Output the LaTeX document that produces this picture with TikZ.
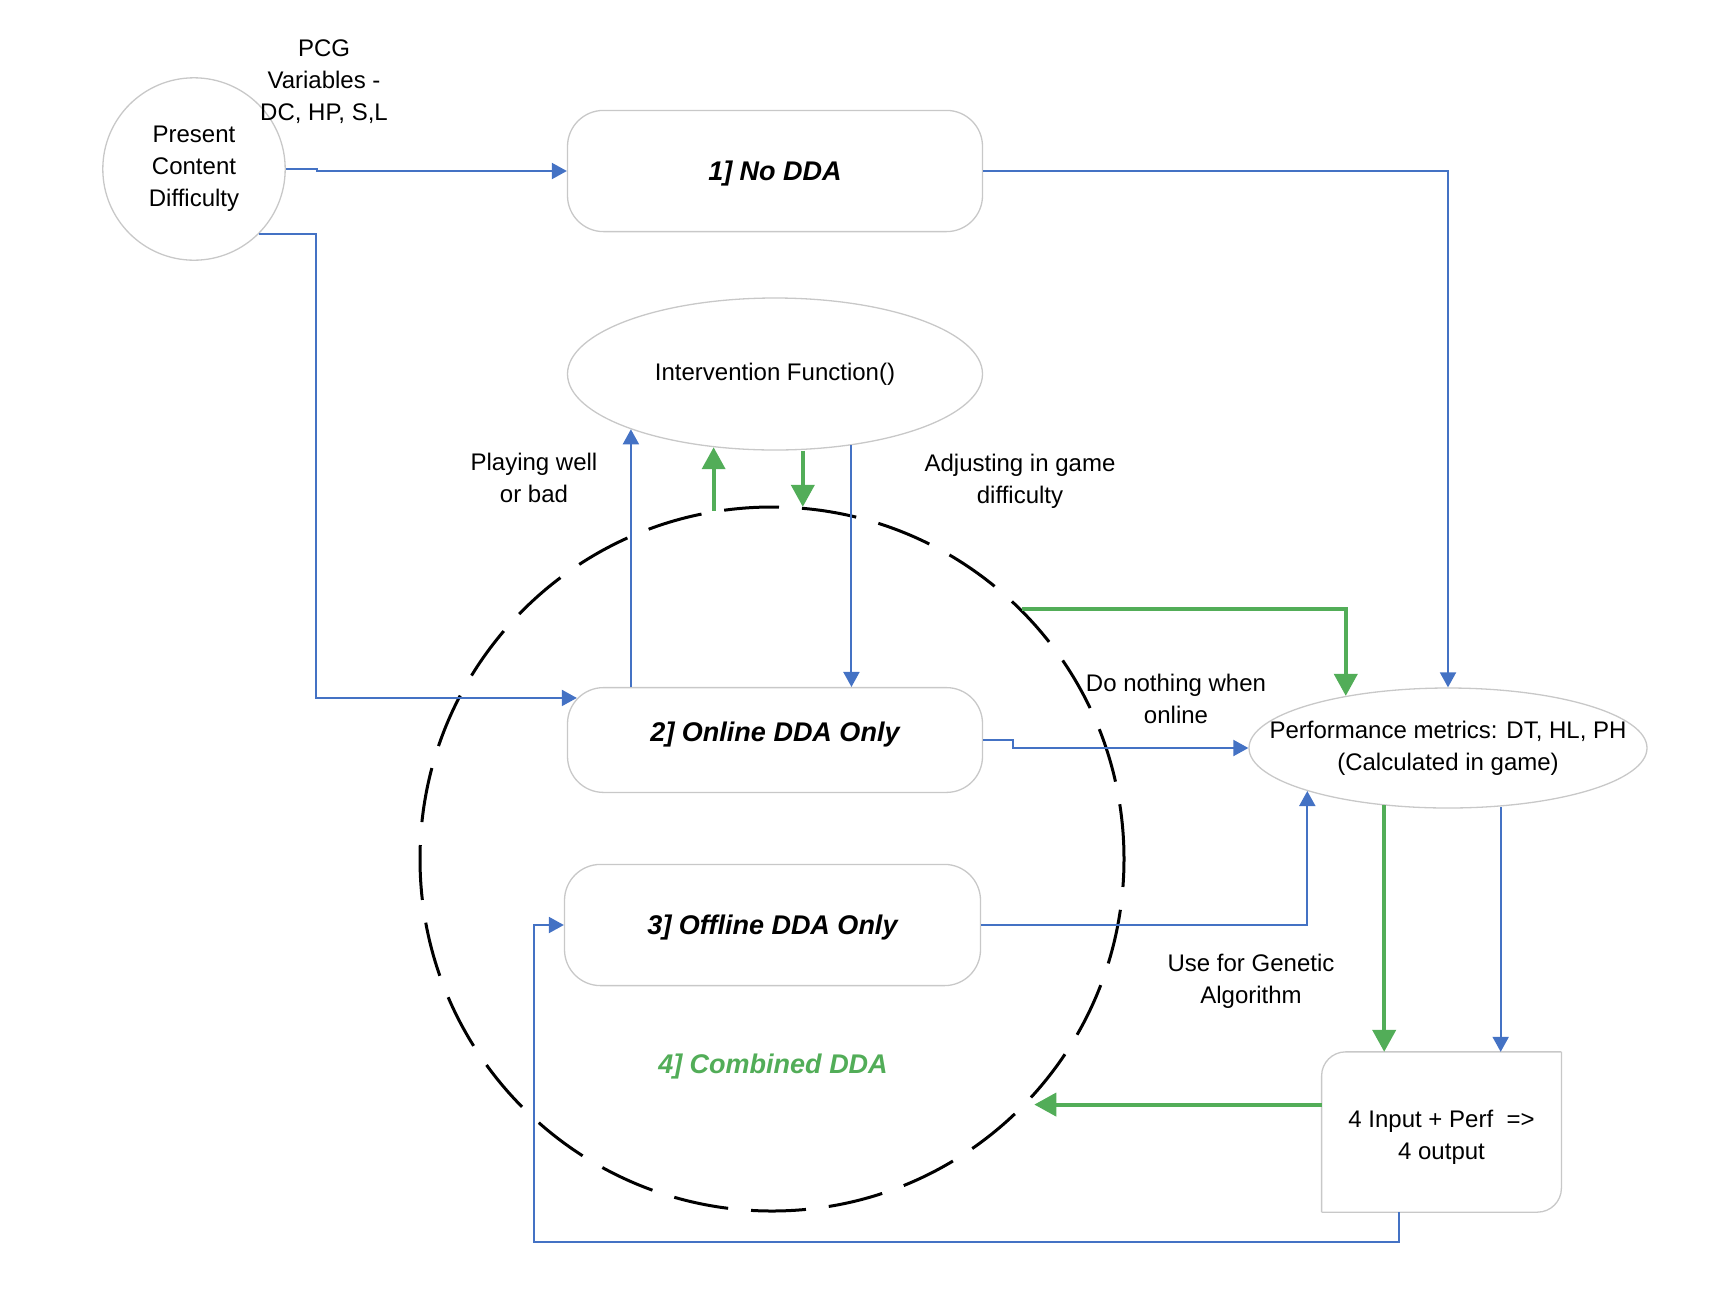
\documentclass[tikz,border=0pt]{standalone}
\usepackage{fontspec}
\setmainfont{Liberation Sans}
\usepackage{tikz}
\usetikzlibrary{arrows.meta,positioning,calc,shapes.geometric}
\definecolor{flowblue}{RGB}{68,114,196}
\definecolor{flowgreen}{RGB}{82,173,88}
\definecolor{edgegray}{RGB}{200,200,200}

\begin{document}
\begin{tikzpicture}[
  x=0.5pt, y=-0.5pt,
  ddabox/.style={draw=edgegray, line width=0.65pt, rounded corners=18pt, minimum width=207.5pt, align=center, text height=10pt, font=\fontsize{13.5}{16}\selectfont\bfseries\itshape},
  oval/.style={draw=edgegray, line width=0.65pt, ellipse, inner sep=0pt},
  arrow/.style={-{Triangle[length=7.5pt, width=8pt]}, flowblue, line width=1pt},
  garrow/.style={-{Triangle[length=11pt, width=11.5pt]}, flowgreen, line width=2pt},
  note/.style={font=\fontsize{12}{16}\selectfont, align=center}
]
\useasboundingbox (0,0) rectangle (1712,1302);

\node[circle, draw=edgegray, line width=0.65pt, minimum size=91.2pt, inner sep=0pt, note] (pcd) at (194,169) {Present\\Content\\Difficulty};

\node[ddabox, minimum height=60.6pt, text depth=1pt] (nodda) at (775,171) {1] No DDA};

\node[oval, minimum width=207.5pt, minimum height=76pt, note] (interv) at (775,374) {Intervention Function()};

\node[ddabox, minimum height=52.4pt, text depth=8.5pt] (online) at (775,740) {2] Online DDA Only};

\node[ddabox, minimum width=208pt, minimum height=60.6pt, text depth=1pt] (offline) at (772.5,925) {3] Offline DDA Only};

\node[circle, draw, line width=1.5pt, dash pattern=on 27.5pt off 11.5pt, minimum size=352pt, inner sep=0pt] (combined) at (772,859) {};
\node[font=\fontsize{13.5}{16}\selectfont\bfseries\itshape, text=flowgreen] (combtext) at (773,1066) {4] Combined DDA};

\node[oval, minimum width=199pt, minimum height=60pt] (perf) at (1448,748) {};
\node[note] (perftext) at (perf) {Performance metrics: DT, HL, PH\\(Calculated in game)};

\node[minimum width=119.5pt, minimum height=79.75pt] (outbox) at (1441.5,1132) {};
\node[note, font=\fontsize{12}{15.8}\selectfont] (outtext) at ([yshift=-2.7pt]outbox.center) {4 Input + Perf~~=>\\4 output};
\draw[edgegray, line width=0.65pt, rounded corners=12pt] (outbox.north east) -- (outbox.north west) -- (outbox.south west);
\draw[edgegray, line width=0.65pt, rounded corners=12pt] (outbox.south west) -- (outbox.south east) -- (outbox.north east);

\node[note] (pcg) at (324,82) {PCG\\Variables -\\DC, HP, S,L};
\node[note] (playing) at (534,478) {Playing well\\or bad};
\node[note] (adjust) at (1020,481) {Adjusting in game\\difficulty};
\node[note] (nothing) at (1176,699) {Do nothing when\\online};
\node[note] (genetic) at (1251,981) {Use for Genetic\\Algorithm};

\draw[arrow] (pcd.east) -- ++(31,0) |- (nodda.west);
\draw[arrow] (pcd.315) -- ++(57,0) |- ($(online.north west)+(10,11)$);
\draw[arrow] (nodda.east) -| (perf.north);
\draw[arrow] (interv.201 |- online.north) -- (interv.201);
\draw[arrow] (interv.317) -- (interv.317 |- online.north);
\draw[garrow] ([xshift=1.5pt]combined.100) -- ([xshift=1.5pt]combined.100 |- interv.230);
\draw[garrow] (interv.south -| combined.85) -- (combined.85);
\draw[garrow] (combined.45) -| (perf.153);
\draw[arrow] (online.east) -- ++(30,0) |- (perf.west);
\draw[arrow] (offline.east) -| (perf.197);
\draw[garrow] (perf.222) -- (perf.222 |- outbox.north);
\draw[arrow] (perf.312) -- (perf.312 |- outbox.north);
\draw[garrow, shorten >=4pt] (outbox.west |- combined.316) -- (combined.316);
\draw[arrow] ([xshift=-21.5pt]outbox.south) -- ++(0,29.4) -| ([xshift=-15pt]offline.west) -- (offline.west);

\end{tikzpicture}
\end{document}
